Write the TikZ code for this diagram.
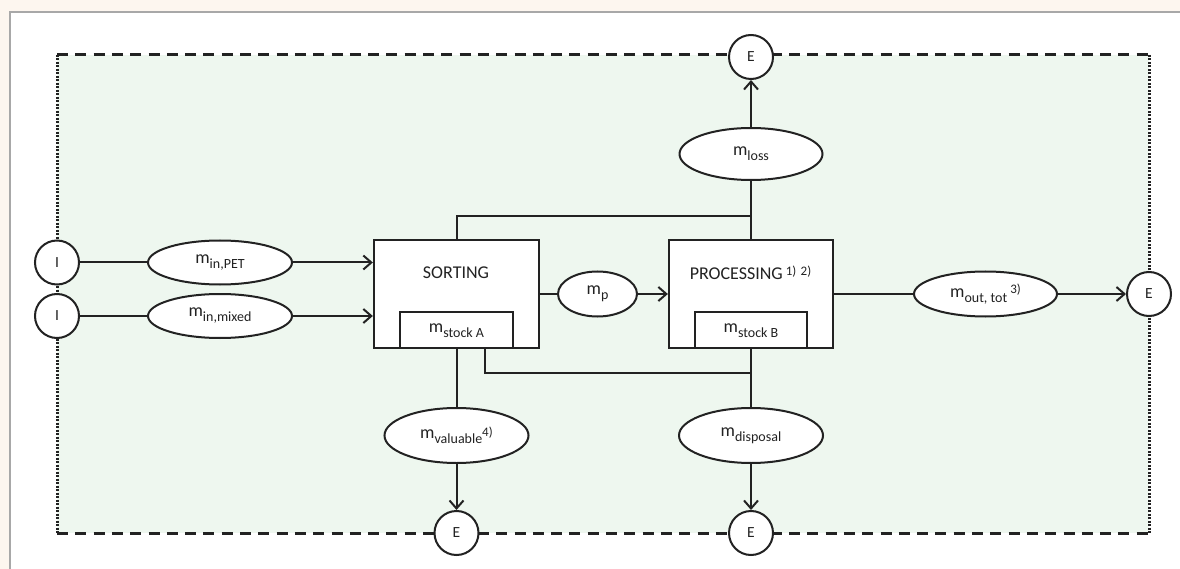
\documentclass[tikz,border=0pt]{standalone}
\usepackage{fontspec}
\setmainfont{Carlito}
\usetikzlibrary{arrows.meta,shapes.geometric}
\definecolor{peach}{HTML}{FDF6EF}
\definecolor{greenbg}{HTML}{EEF7EF}
\definecolor{frame}{HTML}{A8A8A8}
\definecolor{ln}{HTML}{222222}
\newcommand{\lsub}[1]{\raisebox{-0.28em}{\fontsize{14}{16}\selectfont #1}}
\newcommand{\lsup}[2][0.22em]{\raisebox{#1}{\fontsize{13}{15}\selectfont #2}}
\begin{document}
\begin{tikzpicture}[x=1pt,y=-1pt,
  flow/.style={ellipse, draw=ln, fill=white, line width=2pt, minimum width=144pt, minimum height=44pt, inner sep=0pt, text=ln, font=\fontsize{18}{21}\selectfont},
  term/.style={circle, draw=ln, fill=white, line width=2pt, minimum size=44pt, inner sep=0pt, text=ln, font=\fontsize{15.5}{18}\selectfont},
  procbox/.style={rectangle, draw=ln, fill=white, line width=2.3pt, inner sep=0pt},
  lbl/.style={inner sep=0pt, text=ln, font=\fontsize{18}{21}\selectfont},
  conn/.style={draw=ln, line width=2pt},
  arr/.style={conn, -{Straight Barb[length=8pt,width=14pt,line width=2pt]}},
  dashedborder/.style={draw=ln, line width=3pt, dash pattern=on 11pt off 7.3pt},
  dottedborder/.style={draw=ln, line width=3pt, dash pattern=on 2pt off 1.5pt}
]
\useasboundingbox (0,0) rectangle (1180,569);
% background
\fill[peach] (0,0) rectangle (1180,569);
\fill[white] (10,12) rectangle (1180,569);
\draw[frame, line width=1.2pt] (10,569) -- (10,12) -- (1180,12);
\fill[greenbg] (57,55) rectangle (1149,533);
\draw[dashedborder] (57,55) -- (1149,55);
\draw[dashedborder] (57,533) -- (1149,533);
\draw[dottedborder] (57,55) -- (57,533);
\draw[dottedborder] (1149,55) -- (1149,533);

% process boxes
\node[procbox, minimum width=165pt, minimum height=108pt] (sorting) at (456.5,294) {};
\node[procbox, minimum width=164pt, minimum height=108pt] (processing) at (751,294) {};
\node[procbox, minimum width=113pt, minimum height=36pt] (stockA) at (456.5,330) {};
\node[procbox, minimum width=112pt, minimum height=36pt] (stockB) at (751,330) {};
\node[lbl] (sortlbl) at (456,273) {SORTING};
\node[lbl] (proclbl) at (750.5,273) {PROCESSING\,\lsup{1)\,\,2)}};
\node[lbl] (stockAlbl) at (456.5,331) {m\lsub{stock A}};
\node[lbl] (stockBlbl) at (751,331) {m\lsub{stock B}};

% terminals
\node[term] (I1) at (57,262.5) {I};
\node[term] (I2) at (57,316) {I};
\node[term] (Etop) at (751,57) {E};
\node[term] (Eright) at (1149,294) {E};
\node[term] (Ebl) at (456.5,533) {E};
\node[term] (Ebr) at (751,533) {E};

% flows
\node[flow] (inpet) at (220,262.5) {m\lsub{in,PET}};
\node[flow] (inmix) at (220,316) {m\lsub{in,mixed}};
\node[flow, minimum width=79pt, minimum height=45pt] (mp) at (597.5,294) {m\lsub{p}};
\node[flow, minimum width=143pt, minimum height=52pt] (mloss) at (751,154) {m\lsub{loss}};
\node[flow, minimum width=144pt, minimum height=55pt] (mval) at (456.5,435.5) {m\lsub{valuable}\lsup[0.1em]{4)}};
\node[flow, minimum width=144pt, minimum height=55pt] (mdisp) at (751,435.5) {m\lsub{disposal}};
\node[flow, minimum width=143pt, minimum height=45pt] (mout) at (985.5,294) {m\lsub{out, tot}\,\lsup{3)}};

\coordinate (jt) at (751,216);
\coordinate (jb) at (751,373);

% connectors
\draw[conn] (I1) -- (inpet);
\draw[arr] (inpet) -- (sorting.west |- inpet);
\draw[conn] (I2) -- (inmix);
\draw[arr] (inmix) -- (sorting.west |- inmix);
\draw[conn] (sorting.east |- mp) -- (mp);
\draw[arr] (mp) -- (processing.west |- mp);
\draw[conn] (sorting.north) |- (jt);
\draw[conn] (processing.north) -- (mloss.south);
\draw[arr] (mloss) -- (Etop);
\draw[conn] (sorting.south) -- (mval.north);
\draw[arr] (mval) -- (Ebl);
\draw[conn] ([xshift=28.5pt]stockA.south) |- (jb);
\draw[conn] (processing.south) -- (mdisp.north);
\draw[arr] (mdisp) -- (Ebr);
\draw[conn] (processing.east |- mout) -- (mout);
\draw[arr] (mout) -- (Eright);
\end{tikzpicture}
\end{document}
